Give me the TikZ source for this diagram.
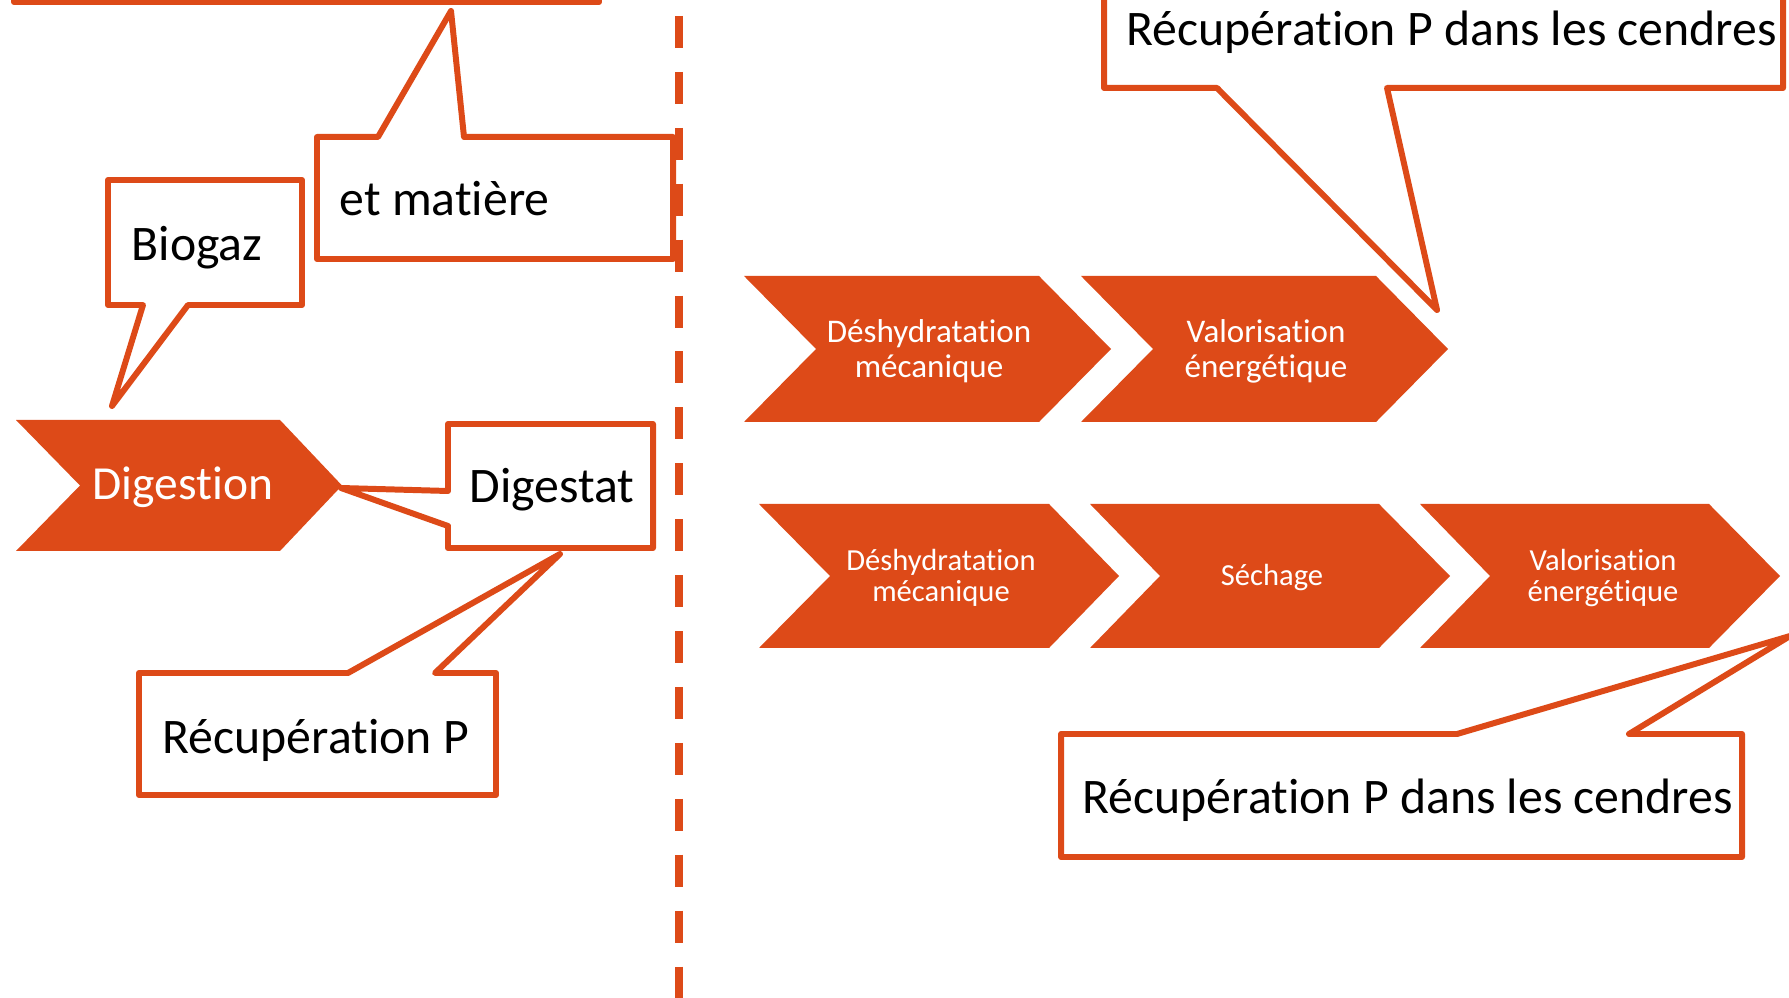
\documentclass[tikz,border=0pt]{standalone}
\usepackage{fontspec}
\setmainfont{Carlito}[Ligatures=NoCommon]
\usetikzlibrary{backgrounds,calc}
\definecolor{brique}{RGB}{221,74,24}

\begin{document}
\begin{tikzpicture}[x=0.01cm,y=-0.01cm]
    % `stage' is used for the orange arrows, `stagetext' for their labels.
    % `bubble' is used for the callout texts, `outline' for the callout boxes.
    \tikzstyle{stage} = [fill=brique]
    \tikzstyle{stagetext} = [text=white,align=center,inner sep=0pt]
    \tikzstyle{bigstage} = [stagetext,font=\fontsize{9.4}{10}\selectfont]
    \tikzstyle{smallstage} = [stagetext,font=\fontsize{8.7}{9}\selectfont]
    \tikzstyle{bubble} = [anchor=base west,inner sep=0pt,font=\fontsize{14.15}{16}\selectfont]
    \tikzstyle{outline} = [draw=brique,fill=white,line width=1.7pt,line join=round]
    \clip (0,0) rectangle (1789,998);
    %
    \node[stagetext,font=\fontsize{13.5}{16}\selectfont] (dig) at (183,487) {Digestion};
    \node[bigstage] (deshA) at (929,351) {Déshydratation\\mécanique};
    \node[bigstage] (valA) at (1266,351) {Valorisation\\énergétique};
    \node[smallstage] (deshB) at (941,578) {Déshydratation\\mécanique};
    \node[smallstage] (sech) at (1272,578) {Séchage};
    \node[smallstage] (valB) at (1603,578) {Valorisation\\énergétique};
    %
    \node[bubble] (matiere) at (339,216) {et matière};
    \node[bubble] (biogaz) at (131,261) {Biogaz};
    \node[bubble] (digestat) at (469,503) {Digestat};
    \node[bubble] (recupP) at (162,753) {Récupération P};
    \node[bubble] (cendresA) at (1126,46) {Récupération P dans les cendres};
    \node[bubble] (cendresB) at (1082,813) {Récupération P dans les cendres};
    %
    \begin{pgfonlayer}{background}
        % Draw separation line.
        \draw[brique,line width=2.3pt,dash pattern=on 9.1pt off 6.8pt] (679,16) -- (679,998);
        % Draw arrows.
        \fill[stage] (16,420) -- (280,420) -- (342,485.5) -- (280,551) -- (16,551) -- (80,485.5) -- cycle;
        \fill[stage] (744,276) -- (1039,276) -- (1111,349) -- (1039,422) -- (744,422) -- (816,349) -- cycle;
        \fill[stage] (1081,276) -- (1376,276) -- (1448,349) -- (1376,422) -- (1081,422) -- (1153,349) -- cycle;
        \fill[stage] (759,504) -- (1049,504) -- (1119,576) -- (1049,648) -- (759,648) -- (830,576) -- cycle;
        \fill[stage] (1090,504) -- (1379,504) -- (1450,576) -- (1379,648) -- (1090,648) -- (1160,576) -- cycle;
        \fill[stage] (1420,504) -- (1709,504) -- (1780,576) -- (1709,648) -- (1420,648) -- (1490,576) -- cycle;
        % Draw callouts.
        \draw[outline] (14,-130) rectangle (599,2);
        \draw[outline] (317,137) -- (378,137) -- (451,11) -- (464,137) -- (673,137) -- (673,259) -- (317,259) -- cycle;
        \draw[outline] (108,180) -- (302,180) -- (302,305) -- (188,305) -- (112,406) -- (143,305) -- (108,305) -- cycle;
        \draw[outline] (448,424) -- (653,424) -- (653,548) -- (448,548) -- (448,526) -- (341,488) -- (448,491) -- cycle;
        \draw[outline] (139,673) -- (348,673) -- (560,554) -- (435,673) -- (496,673) -- (496,795) -- (139,795) -- cycle;
        \draw[outline] (1104,-40) -- (1783,-40) -- (1783,88) -- (1387,88) -- (1437,310) -- (1217,88) -- (1104,88) -- cycle;
        \draw[outline] (1061,734) -- (1457,734) -- (1790,636) -- (1629,734) -- (1742,734) -- (1742,857) -- (1061,857) -- cycle;
    \end{pgfonlayer}
\end{tikzpicture}
\end{document}
